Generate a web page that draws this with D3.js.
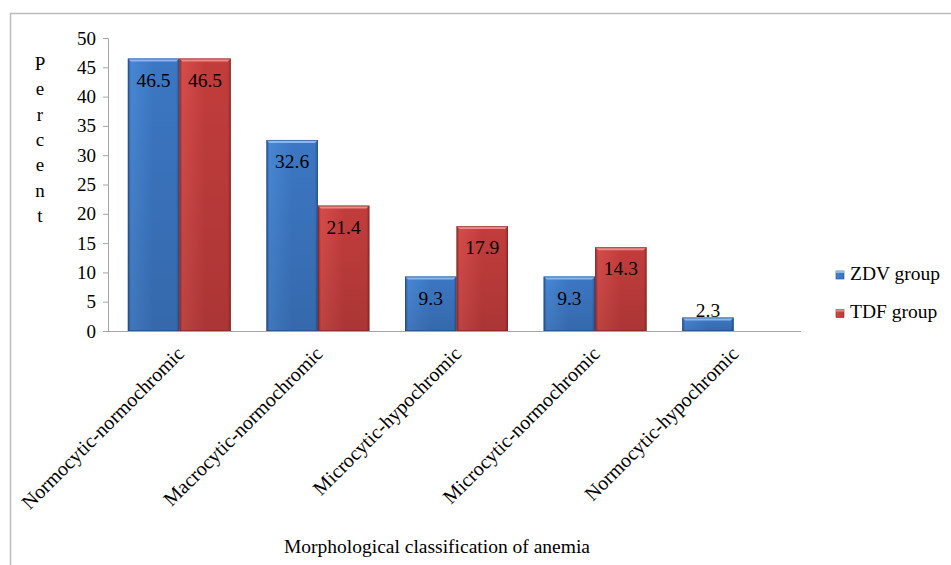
<!DOCTYPE html>
<html lang="en">
<head>
<meta charset="UTF-8" />
<script src="https://d3js.org/d3.v7.min.js"></script>
<title>Morphological classification of anemia</title>
<style>
  body { margin: 0; background: #fff; }
</style>
</head>
<body>
<script>
    // chart data
    var categories = ["Normocytic-normochromic", "Macrocytic-normochromic", "Microcytic-hypochromic",
        "Microcytic-normochromic", "Normocytic-hypochromic"];
    var zdvValues = [46.5, 32.6, 9.3, 9.3, 2.3];
    var tdfValues = [46.5, 21.4, 17.9, 14.3, null];
    var seriesNames = ["ZDV group", "TDF group"];
    var yTickValues = [0, 5, 10, 15, 20, 25, 30, 35, 40, 45, 50];
    var yTitle = "Percent";
    var xTitle = "Morphological classification of anemia";

    var width = 951, height = 565;
    var fontSize = 19;
    var serif = "Liberation Serif";

    var svg = d3.select("body").append("svg")
        .attr("width", width)
        .attr("height", height);

    // outer frame (only top + left visible in the picture)
    svg.append("rect")
        .attr("x", 10.5).attr("y", 13.5)
        .attr("width", 980).attr("height", 600)
        .attr("fill", "none").attr("stroke", "#bcbcbc").attr("stroke-width", 1.5);

    var x0 = d3.scaleBand().domain(categories).range([110, 803])
        .paddingInner(0.257).paddingOuter(0.1285);
    var x1 = d3.scaleBand().domain(seriesNames).range([0, x0.bandwidth()]);
    var y = d3.scaleLinear().domain([0, 50]).range([331, 38]);

    var colors = {
        "ZDV group": { top: "#8ab8ee", light: "#4787d4", mid: "#3c77c3", dark: "#2a5796", edge: "#234a80" },
        "TDF group": { top: "#ec8a88", light: "#d44c4a", mid: "#c23d3c", dark: "#9c2c2b", edge: "#7e2423" }
    };

    var defs = svg.append("defs");
    seriesNames.forEach(function (s, i) {
        var c = colors[s];
        var gh = defs.append("linearGradient").attr("id", "gh" + i)
            .attr("x1", "0").attr("x2", "1").attr("y1", "0").attr("y2", "0");
        gh.append("stop").attr("offset", "0").attr("stop-color", c.dark);
        gh.append("stop").attr("offset", "0.06").attr("stop-color", c.light);
        gh.append("stop").attr("offset", "0.5").attr("stop-color", c.mid);
        gh.append("stop").attr("offset", "0.94").attr("stop-color", c.mid);
        gh.append("stop").attr("offset", "1").attr("stop-color", c.dark);
        var gv = defs.append("linearGradient").attr("id", "gv" + i)
            .attr("x1", "0").attr("x2", "0").attr("y1", "0").attr("y2", "1");
        gv.append("stop").attr("offset", "0").attr("stop-color", "#000").attr("stop-opacity", 0);
        gv.append("stop").attr("offset", "1").attr("stop-color", "#000").attr("stop-opacity", 0.12);
    });

    var rows = categories.map(function (c, i) {
        return { cat: c, values: [zdvValues[i], tdfValues[i]] };
    });

    var groups = svg.append("g").selectAll("g").data(rows).enter().append("g")
        .attr("transform", function (d) { return "translate(" + x0(d.cat) + ",0)"; });

    var bars = groups.selectAll("g.bar")
        .data(function (d) {
            return d.values.map(function (v, i) { return { series: seriesNames[i], idx: i, value: v }; })
                .filter(function (e) { return e.value != null; });
        })
        .enter().append("g").attr("class", "bar");

    bars.each(function (d) {
        var g = d3.select(this);
        var bx = x1(d.series), bw = x1.bandwidth();
        var top = y(d.value), bot = y(0), h = bot - top;
        var c = colors[d.series];
        var bev = Math.min(3, h / 2);
        g.append("rect").attr("x", bx).attr("y", top).attr("width", bw).attr("height", h)
            .attr("fill", "url(#gh" + d.idx + ")");
        g.append("rect").attr("x", bx).attr("y", top).attr("width", bw).attr("height", h)
            .attr("fill", "url(#gv" + d.idx + ")");
        // top bevel
        g.append("path")
            .attr("d", "M" + bx + "," + top + "L" + (bx + bw) + "," + top +
                "L" + (bx + bw - bev) + "," + (top + bev) + "L" + (bx + bev) + "," + (top + bev) + "Z")
            .attr("fill", c.top);
        g.append("rect").attr("x", bx + 0.5).attr("y", top + 0.5).attr("width", bw - 1).attr("height", h - 1)
            .attr("fill", "none").attr("stroke", c.edge).attr("stroke-opacity", 0.6).attr("stroke-width", 1);
    });

    // value labels
    bars.append("text")
        .attr("x", function (d) { return x1(d.series) + x1.bandwidth() / 2; })
        .attr("y", function (d) {
            var h = y(0) - y(d.value);
            return h > 25 ? y(d.value) + 28 : y(d.value) - 1;
        })
        .attr("text-anchor", "middle")
        .attr("font-size", fontSize + 0.5)
        .text(function (d) { return d.value.toFixed(1); });

    // y axis
    var yAxis = d3.axisLeft(y).tickValues(yTickValues).tickSize(5).tickPadding(7);
    var yg = svg.append("g").attr("transform", "translate(108,0)").call(yAxis)
        .attr("font-size", fontSize);
    yg.selectAll("line, path").attr("stroke", "#a6a6a6");

    // x axis line
    var xg = svg.append("g").attr("transform", "translate(0,331)")
        .call(d3.axisBottom(x0).tickSize(0).tickFormat(""));
    xg.select("path").attr("stroke", "#a6a6a6").attr("d", "M108,0.5H801");

    // rotated category labels
    svg.append("g").selectAll("text").data(categories).enter().append("text")
        .attr("transform", function (d) {
            return "translate(" + (x0(d) + x0.bandwidth() / 2 + 6) + ",355) rotate(-45)";
        })
        .attr("text-anchor", "end")
        .attr("font-size", fontSize + 1)
        .text(function (d) { return d; });

    // vertical stacked y title
    svg.append("g").selectAll("text").data(yTitle.split("")).enter().append("text")
        .attr("x", 40)
        .attr("y", function (d, i) { return 70 + i * 25.3; })
        .attr("text-anchor", "middle")
        .attr("font-size", fontSize)
        .text(function (d) { return d; });

    // x title
    svg.append("text").attr("x", 437).attr("y", 553)
        .attr("text-anchor", "middle").attr("font-size", fontSize + 0.5)
        .text(xTitle);

    // legend
    var legend = svg.append("g").selectAll("g").data(seriesNames).enter().append("g")
        .attr("transform", function (d, i) { return "translate(836," + (271 + i * 38.5) + ")"; });
    legend.append("rect").attr("width", 8).attr("height", 8)
        .attr("fill", function (d, i) { return "url(#gh" + i + ")"; })
        .attr("stroke", function (d) { return colors[d].edge; }).attr("stroke-width", 0.6);
    legend.append("rect").attr("width", 8).attr("height", 2)
        .attr("fill", function (d) { return colors[d].top; });
    legend.append("text").attr("x", 14).attr("y", 8.5)
        .attr("font-size", fontSize + 0.5)
        .text(function (d) { return d; });

    // serif everywhere
    svg.selectAll("text").attr("font-family", serif).style("font-family", "'Liberation Serif', serif").style("fill", "#000");
</script>
</body>
</html>
